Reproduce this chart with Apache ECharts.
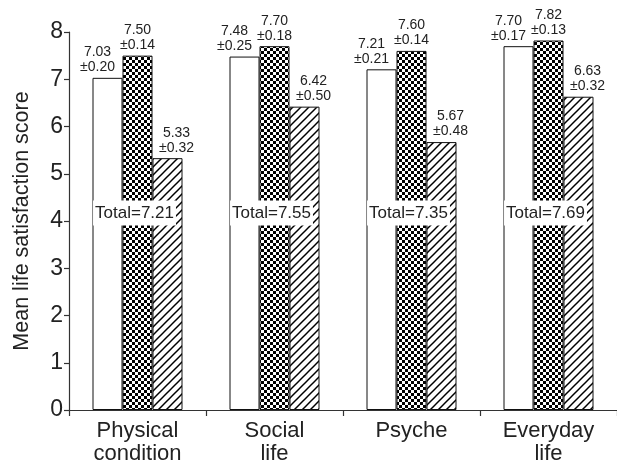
<!DOCTYPE html>
<html>
<head>
<meta charset="utf-8">
<script src="https://cdn.jsdelivr.net/npm/echarts@6/dist/echarts.min.js"></script>
<style>
  html, body { margin: 0; padding: 0; background: #fff; }
  #chart { width: 617px; height: 465px; }
</style>
</head>
<body>
<div id="chart"></div>
<script>
// Life satisfaction domains and the three group means with their SDs
const categories = ['Physical\ncondition', 'Social\nlife', 'Psyche', 'Everyday\nlife'];
const meanA = [7.03, 7.48, 7.21, 7.70];
const sdA   = [0.20, 0.25, 0.21, 0.17];
const meanB = [7.50, 7.70, 7.60, 7.82];
const sdB   = [0.14, 0.18, 0.14, 0.13];
const meanC = [5.33, 6.42, 5.67, 6.63];
const sdC   = [0.32, 0.50, 0.48, 0.32];
const totals = [7.21, 7.55, 7.35, 7.69];
const yMin = 0, yMax = 8, yStep = 1;

// Height (in score units) at which the "Total=" captions sit
const TOTAL_LABEL_Y = 4.17;

const FONT = "'Liberation Sans', Arial, sans-serif";
const INK = '#222';

// Fill patterns drawn on small tiles
function checkerTile() {
  const c = document.createElement('canvas');
  c.width = 6; c.height = 6;
  const g = c.getContext('2d');
  g.fillStyle = '#fff'; g.fillRect(0, 0, 6, 6);
  g.fillStyle = '#000';
  g.fillRect(0, 0, 3, 3);
  g.fillRect(3, 3, 3, 3);
  return c;
}
function hatchTile() {
  const s = 8;
  const c = document.createElement('canvas');
  c.width = s; c.height = s;
  const g = c.getContext('2d');
  g.fillStyle = '#fff'; g.fillRect(0, 0, s, s);
  g.strokeStyle = '#000'; g.lineWidth = 1.5;
  [-s, 0, s].forEach(function (o) {
    g.beginPath();
    g.moveTo(o - 1, s + 1);
    g.lineTo(o + s + 1, -1);
    g.stroke();
  });
  return c;
}

function valueLabel(sds, dx) {
  return {
    show: true,
    position: 'top',
    distance: 3,
    offset: [dx, 0],
    fontFamily: FONT,
    fontSize: 14,
    lineHeight: 15,
    color: INK,
    formatter: function (p) {
      return p.value.toFixed(2) + '\n\u00b1' + sds[p.dataIndex].toFixed(2);
    }
  };
}

const barBase = {
  type: 'bar',
  barWidth: 30,
  barGap: '0%',
  barCategoryGap: '0%',
  animation: false
};

const chart = echarts.init(document.getElementById('chart'), null, { renderer: 'canvas' });
chart.setOption({
  backgroundColor: '#fff',
  animation: false,
  grid: { left: 69, top: 32, width: 550, height: 378 },
  xAxis: {
    type: 'category',
    data: categories,
    axisLine: { lineStyle: { color: '#333', width: 1.2 } },
    axisTick: { show: true, length: 6, alignWithLabel: false, lineStyle: { color: '#333', width: 1.2 } },
    axisLabel: {
      margin: 9,
      fontFamily: FONT,
      fontSize: 22,
      lineHeight: 23,
      color: INK,
      interval: 0
    }
  },
  yAxis: {
    type: 'value',
    min: yMin,
    max: yMax,
    interval: yStep,
    name: 'Mean life satisfaction score',
    nameLocation: 'middle',
    nameRotate: 90,
    nameGap: 36,
    nameTextStyle: { fontFamily: FONT, fontSize: 21.5, color: INK },
    splitLine: { show: false },
    axisLine: { show: true, lineStyle: { color: '#333', width: 1.2 } },
    axisTick: { show: true, length: 5, lineStyle: { color: '#333', width: 1.2 } },
    axisLabel: { margin: 6, fontFamily: FONT, fontSize: 23, color: INK }
  },
  series: [
    Object.assign({}, barBase, {
      name: 'Group A',
      data: meanA,
      itemStyle: { color: '#fff', borderColor: '#111', borderWidth: 1 },
      label: valueLabel(sdA, -10)
    }),
    Object.assign({}, barBase, {
      name: 'Group B',
      data: meanB,
      itemStyle: { color: { image: checkerTile(), repeat: 'repeat' }, borderColor: '#111', borderWidth: 1 },
      label: valueLabel(sdB, 0)
    }),
    Object.assign({}, barBase, {
      name: 'Group C',
      data: meanC,
      itemStyle: { color: { image: hatchTile(), repeat: 'repeat' }, borderColor: '#111', borderWidth: 1 },
      label: valueLabel(sdC, 9)
    }),
    {
      type: 'scatter',
      name: 'Total',
      z: 10,
      symbolSize: 1,
      itemStyle: { color: 'rgba(0,0,0,0)', opacity: 1 },
      data: totals.map(function (t, i) { return [i, TOTAL_LABEL_Y]; }),
      label: {
        show: true,
        position: 'inside',
        offset: [-3, 0],
        fontFamily: FONT,
        fontSize: 17,
        lineHeight: 20,
        color: INK,
        opacity: 1,
        backgroundColor: '#fff',
        padding: [3, 2, 2, 2],
        formatter: function (p) { return 'Total=' + totals[p.dataIndex].toFixed(2); }
      }
    }
  ]
});
</script>
</body>
</html>
